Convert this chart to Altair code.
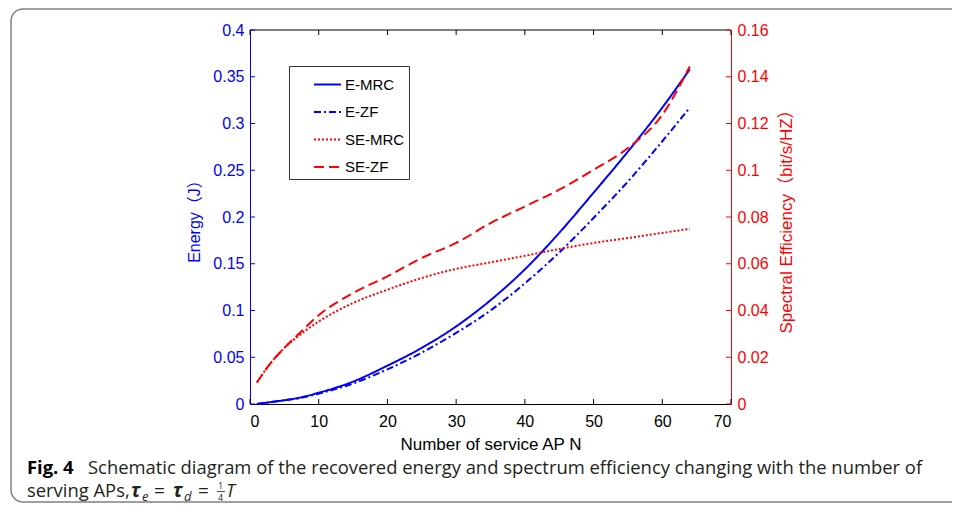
import altair as alt
import pandas as pd

# ---------------- data ----------------
N = [1, 3, 5, 7, 10, 15, 20, 25, 30, 35, 40, 45, 50, 55, 60, 64]
E_MRC = [0.000, 0.002, 0.004, 0.0065, 0.012, 0.024, 0.041, 0.060, 0.083, 0.111, 0.144, 0.183, 0.226, 0.270, 0.317, 0.358]
E_ZF = [0.000, 0.002, 0.004, 0.006, 0.011, 0.022, 0.037, 0.055, 0.076, 0.100, 0.129, 0.162, 0.199, 0.238, 0.281, 0.317]
SE_MRC = [0.0092, 0.0175, 0.024, 0.029, 0.0353, 0.0432, 0.0489, 0.0539, 0.0578, 0.0606, 0.0634, 0.0663, 0.0689, 0.0710, 0.0732, 0.0749]
SE_ZF = [0.0092, 0.0175, 0.024, 0.0297, 0.038, 0.0475, 0.0546, 0.0625, 0.0689, 0.0774, 0.0845, 0.0917, 0.1002, 0.1095, 0.1237, 0.1444]

series_order = ["E-MRC", "E-ZF", "SE-MRC", "SE-ZF"]
x_ticks = [0, 10, 20, 30, 40, 50, 60, 70]
left_ticks = [0, 0.05, 0.1, 0.15, 0.2, 0.25, 0.3, 0.35, 0.4]
right_ticks = [0, 0.02, 0.04, 0.06, 0.08, 0.1, 0.12, 0.14, 0.16]

BLUE = "#0000ff"
RED = "#ff0000"
AXFONT = "Liberation Sans, Arial, Noto Sans CJK SC"
CAPFONT = "Open Sans"
CAPCOL = "#231f20"

W, H = 481, 374

df_E = pd.DataFrame({"N": N + N, "val": E_MRC + E_ZF,
                     "series": ["E-MRC"] * len(N) + ["E-ZF"] * len(N)})
df_S = pd.DataFrame({"N": N + N, "val": SE_MRC + SE_ZF,
                     "series": ["SE-MRC"] * len(N) + ["SE-ZF"] * len(N)})

legend = alt.Legend(
    title=None, orient="none", legendX=39, legendY=36,
    symbolType="stroke", symbolSize=729, symbolStrokeWidth=2,
    symbolOffset=20, labelOffset=3, padding=4, rowPadding=4.5,
    labelFont=AXFONT, labelFontSize=15, labelColor="#000000",
    strokeColor="#333333", fillColor="#ffffff",
)
color = alt.Color("series:N", scale=alt.Scale(domain=series_order, range=[BLUE, BLUE, RED, RED]), legend=legend)
dash = alt.StrokeDash("series:N", scale=alt.Scale(domain=series_order,
                      range=[[1, 0], [7, 3, 2, 3], [2, 2], [10, 5]]), legend=legend)

x_enc = alt.X("N:Q", scale=alt.Scale(domain=[0, 70], nice=False),
              axis=alt.Axis(values=x_ticks, orient="bottom", title="Number of service AP N",
                            grid=False, tickSize=0, domainColor="#000000", domainWidth=1,
                            labelFont=AXFONT, labelFontSize=16, labelColor="#000000", labelPadding=9,
                            titleFont=AXFONT, titleFontSize=17, titleFontWeight="normal",
                            titleColor="#000000", titlePadding=7))

y_left = alt.Y("val:Q", scale=alt.Scale(domain=[0, 0.4], nice=False),
               axis=alt.Axis(values=left_ticks, orient="left", format="~g", title="Energy（J）",
                             grid=False, tickSize=0, domainColor=BLUE, domainWidth=1,
                             labelFont=AXFONT, labelFontSize=16, labelColor=BLUE, labelPadding=6,
                             titleFont=AXFONT, titleFontSize=16, titleFontWeight="normal",
                             titleColor=BLUE, titlePadding=10))

y_right = alt.Y("val:Q", scale=alt.Scale(domain=[0, 0.16], nice=False),
                axis=alt.Axis(values=right_ticks, orient="right", format="~g",
                              title="Spectral Efficiency（bit/s/HZ）", titleAngle=270, titleBaseline="top",
                              grid=False, tickSize=0, domainColor=RED, domainWidth=1,
                              labelFont=AXFONT, labelFontSize=16, labelColor=RED, labelPadding=6,
                              titleFont=AXFONT, titleFontSize=17, titleFontWeight="normal",
                              titleColor=RED, titlePadding=10))

# energy lines + inward ticks
e_lines = alt.Chart(df_E).mark_line(interpolate="monotone", strokeWidth=2).encode(
    x=x_enc, y=y_left, color=color, strokeDash=dash)
left_tk = alt.Chart(pd.DataFrame({"val": left_ticks})).mark_rule(color=BLUE, strokeWidth=1).encode(
    y=y_left, x=alt.value(0), x2=alt.value(5))
xdf = pd.DataFrame({"N": x_ticks})
bot_tk = alt.Chart(xdf).mark_rule(color="#000000", strokeWidth=1).encode(
    x=x_enc, y=alt.value(H - 5), y2=alt.value(H))
top_tk = alt.Chart(xdf).mark_rule(color="#000000", strokeWidth=1).encode(
    x=x_enc, y=alt.value(0), y2=alt.value(5))
top_line = alt.Chart(xdf.head(1)).mark_rule(color="#000000", strokeWidth=1).encode(
    x=alt.value(0), x2=alt.value(W), y=alt.value(0))
left = alt.layer(top_line, top_tk, bot_tk, left_tk, e_lines)

s_lines = alt.Chart(df_S).mark_line(interpolate="monotone", strokeWidth=2).encode(
    x=x_enc, y=y_right, color=color, strokeDash=dash)
right_tk = alt.Chart(pd.DataFrame({"val": right_ticks})).mark_rule(color=RED, strokeWidth=1).encode(
    y=y_right, x=alt.value(W - 5), x2=alt.value(W))
right = alt.layer(right_tk, s_lines)

one = pd.DataFrame({"d": [0]})
OX, OY = 250, 30  # page position of plot origin


def txt(s, px, py, size=18.4, weight="normal", style="normal", color=CAPCOL, font=CAPFONT):
    return alt.Chart(one).mark_text(text=s, align="left", baseline="alphabetic", font=font,
                                    fontSize=size, fontWeight=weight, fontStyle=style,
                                    color=color).encode(x=alt.value(px - OX), y=alt.value(py - OY))


frame = alt.Chart(one).mark_rect(fillOpacity=0, stroke="#808080", strokeWidth=1.5, cornerRadius=12).encode(
    x=alt.value(11 - OX), x2=alt.value(1000 - OX), y=alt.value(9 - OY), y2=alt.value(502 - OY))

L1, L2 = 474, 497
caps = [
    txt("Fig. 4", 27, L1, weight="bold", color="#000000"),
    txt("Schematic diagram of the recovered energy and spectrum efficiency changing with the number of", 88, L1),
    txt("serving APs,", 27, L2),
    txt("τ", 131, L2, size=19, style="italic", weight="bold"),
    txt("e", 142, L2 + 4, size=13, style="italic"),
    txt("=", 154, L2, size=19),
    txt("τ", 173, L2, size=19, style="italic", weight="bold"),
    txt("d", 184, L2 + 4, size=13, style="italic"),
    txt("=", 198, L2, size=19),
    txt("1", 218, L2 - 8.5, size=9),
    txt("4", 218, L2 + 4, size=9),
    txt("T", 226, L2, size=18, style="italic"),
]
frac_bar = alt.Chart(one).mark_rule(color=CAPCOL, strokeWidth=0.8).encode(
    x=alt.value(217 - OX), x2=alt.value(225 - OX), y=alt.value(L2 - 5.5 - OY))

chart = alt.layer(frame, left, right, frac_bar, *caps).resolve_scale(y="independent").properties(
    width=W, height=H,
    autosize=alt.AutoSizeParams(type="none"),
    padding={"left": 242, "top": 22, "right": 944 - 242 - W, "bottom": 496 - 22 - H},
).configure_view(strokeWidth=0)

chart.save("out.html", embed_options={"renderer": "svg", "actions": False})
